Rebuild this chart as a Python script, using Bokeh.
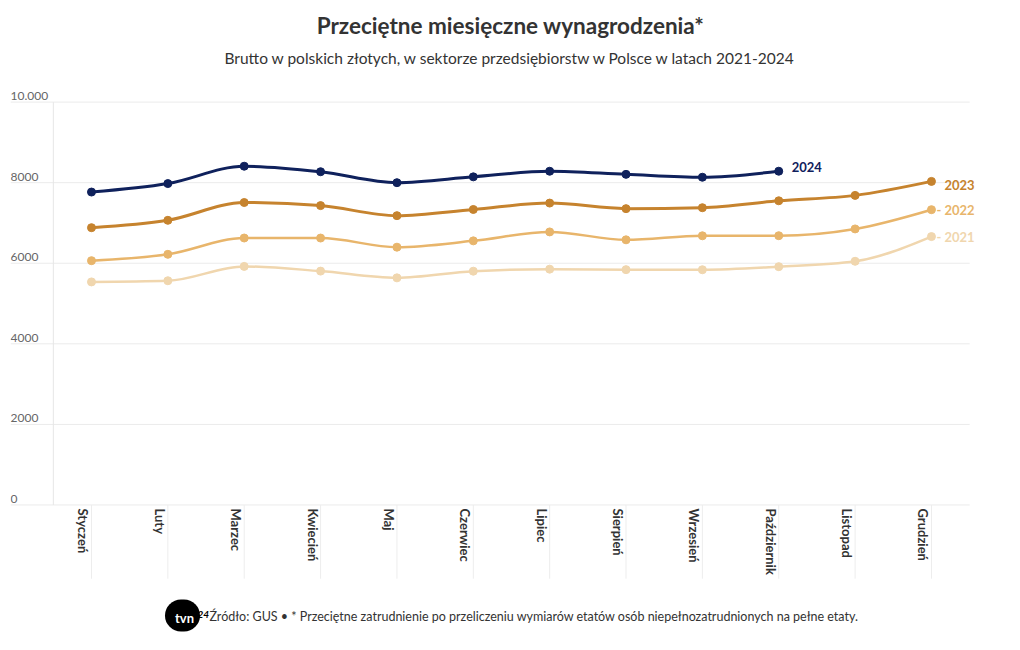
from bokeh.plotting import figure
from bokeh.models import Range1d, FixedTicker, Title, Label, ColumnDataSource
from bokeh.core.properties import value
from bokeh.embed import file_html
from bokeh.resources import INLINE

# ---------------- data ----------------
months = ["Styczeń", "Luty", "Marzec", "Kwiecień", "Maj", "Czerwiec", "Lipiec",
          "Sierpień", "Wrzesień", "Październik", "Listopad", "Grudzień"]
wages_2021 = [5537, 5566, 5922, 5805, 5638, 5803, 5854, 5842, 5839, 5915, 6049, 6662]
wages_2022 = [6064, 6222, 6627, 6626, 6399, 6556, 6778, 6582, 6682, 6684, 6852, 7330]
wages_2023 = [6883, 7066, 7508, 7431, 7182, 7335, 7494, 7356, 7379, 7551, 7685, 8032]
wages_2024 = [7768, 7978, 8409, 8272, 8000, 8145, 8284, 8207, 8135, 8285]
y_ticks = [0, 2000, 4000, 6000, 8000, 10000]
y_tick_labels = ["0", "2000", "4000", "6000", "8000", "10.000"]

# name, values, colour, line width, label y offset, label x offset, label prefix
series = [
    ("2021", wages_2021, "#f0d6ae", 2.5, 0, 5, "- "),
    ("2022", wages_2022, "#e8b56b", 2.5, 0, 5, "- "),
    ("2023", wages_2023, "#c6832e", 3, -4, 13, ""),
    ("2024", wages_2024, "#0f215c", 3, 4, 13, ""),
]

FONT = "Lato"
X0, X1 = -1.0607, 12.035
Y0, Y1 = -3612, 10462
GUIDE_BOTTOM = -1830
PLOT_RIGHT = 11.5

p = figure(width=1020, height=650, x_range=Range1d(X0, X1), y_range=Range1d(Y0, Y1),
           output_backend="svg", toolbar_location=None,
           min_border_left=10, min_border_right=10, min_border_top=8, min_border_bottom=0)
p.outline_line_color = None
p.background_fill_color = "white"
p.border_fill_color = "white"

# grid drawn as horizontal rules limited to the plot width
p.xgrid.visible = False
p.ygrid.visible = False
p.yaxis.visible = False
p.segment(x0=[X0] * len(y_ticks), y0=y_ticks, x1=[PLOT_RIGHT] * len(y_ticks), y1=y_ticks,
          line_color="#ebebeb", line_width=1)

# category guide lines below the plot and the left rule
idx = list(range(len(months)))
p.segment(x0=idx, y0=[0] * len(idx), x1=idx, y1=[GUIDE_BOTTOM] * len(idx),
          line_color="#ededed", line_width=1)
p.segment(x0=[-0.5], y0=[0], x1=[-0.5], y1=[y_ticks[-1]], line_color="#e6e6e6", line_width=1)

# y tick labels (sitting on top of grid lines, left aligned)
p.text(x=[X0] * len(y_ticks), y=y_ticks, text=y_tick_labels, text_font=value(FONT),
       text_font_size="12px", text_color="#666666", text_baseline="bottom",
       text_align="left", y_offset=-2)

# x axis (labels) on slightly shifted range so labels sit left of the guide lines
p.extra_x_ranges = {"lab": Range1d(X0 + 0.1048, X1 + 0.1048)}
ax = p.xaxis[0]
ax.x_range_name = "lab"
ax.ticker = FixedTicker(ticks=idx)
ax.major_label_overrides = {i: m for i, m in enumerate(months)}
ax.major_label_orientation = "vertical"
ax.major_label_text_font = FONT
ax.major_label_text_font_size = "13px"
ax.major_label_text_font_style = "bold"
ax.major_label_text_color = "#333333"
ax.major_tick_line_color = None
ax.minor_tick_line_color = None
ax.axis_line_color = None
ax.major_tick_out = 0
ax.major_tick_in = 0
ax.major_label_standoff = -142


def monotone_bezier(ys):
    n = len(ys)
    xs = list(range(n))
    s = [(ys[i + 1] - ys[i]) for i in range(n - 1)]
    t = [0.0] * n
    for i in range(1, n - 1):
        s0, s1 = s[i - 1], s[i]
        pp = (s0 + s1) / 2
        sg = (1 if s0 > 0 else -1 if s0 < 0 else 0) + (1 if s1 > 0 else -1 if s1 < 0 else 0)
        t[i] = sg * min(abs(s0), abs(s1), 0.5 * abs(pp))
    t[0] = (3 * s[0] - t[1]) / 2
    t[-1] = (3 * s[-1] - t[-2]) / 2
    d = dict(x0=[], y0=[], x1=[], y1=[], cx0=[], cy0=[], cx1=[], cy1=[])
    for i in range(n - 1):
        d["x0"].append(xs[i]); d["y0"].append(ys[i])
        d["x1"].append(xs[i + 1]); d["y1"].append(ys[i + 1])
        d["cx0"].append(xs[i] + 1 / 3); d["cy0"].append(ys[i] + t[i] / 3)
        d["cx1"].append(xs[i + 1] - 1 / 3); d["cy1"].append(ys[i + 1] - t[i + 1] / 3)
    return d


for name, vals, color, lw, yoff, xoff, prefix in series:
    src = ColumnDataSource(monotone_bezier(vals))
    p.bezier(x0="x0", y0="y0", x1="x1", y1="y1", cx0="cx0", cy0="cy0", cx1="cx1", cy1="cy1",
             source=src, line_color=color, line_width=lw)
    p.scatter(x=list(range(len(vals))), y=vals, size=8, fill_color=color, line_color=color)
    p.add_layout(Label(x=len(vals) - 1, y=vals[-1], text=prefix + name, text_font=FONT,
                       text_font_size="13px", text_font_style="bold", text_color=color,
                       text_baseline="middle", text_align="left", x_offset=xoff, y_offset=yoff))

# titles (nearest to the plot added first)
p.add_layout(Title(text=" ", text_font_size="1px", standoff=8), "above")
p.add_layout(Title(text="Brutto w polskich złotych, w sektorze przedsiębiorstw w Polsce w latach 2021-2024",
                   align="center", text_font=FONT, text_font_size="15.5px", text_font_style="normal",
                   text_color="#333333", standoff=12), "above")
p.add_layout(Title(text="Przeciętne miesięczne wynagrodzenia*", align="center", text_font=FONT,
                   text_font_size="22.5px", text_font_style="bold", text_color="#333333",
                   standoff=4), "above")
p.add_layout(Title(text=" ", text_font_size="1px", standoff=4), "above")

# footer (inside the canvas area below the axis labels)
p.add_layout(Label(x=199, y=34, x_units="screen", y_units="screen",
                   text="Źródło: GUS • * Przeciętne zatrudnienie po przeliczeniu wymiarów etatów osób niepełnozatrudnionych na pełne etaty.",
                   text_font=FONT, text_font_size="12.5px", text_color="#333333",
                   text_baseline="middle", text_align="left"))

# logo (approximation)
p.add_layout(Label(x=172, y=35, x_units="screen", y_units="screen", text="tvn",
                   text_font=FONT, text_font_size="13px", text_font_style="bold",
                   text_color="white", text_align="center", text_baseline="middle",
                   background_fill_color="black", border_radius=17,
                   padding=(10, 6, 10, 6)))
p.add_layout(Label(x=187, y=36, x_units="screen", y_units="screen", text="24",
                   text_font=FONT, text_font_size="10px", text_font_style="bold italic",
                   text_color="black", text_baseline="middle", text_align="left"))

open("out.html", "w").write(file_html(p, INLINE))
